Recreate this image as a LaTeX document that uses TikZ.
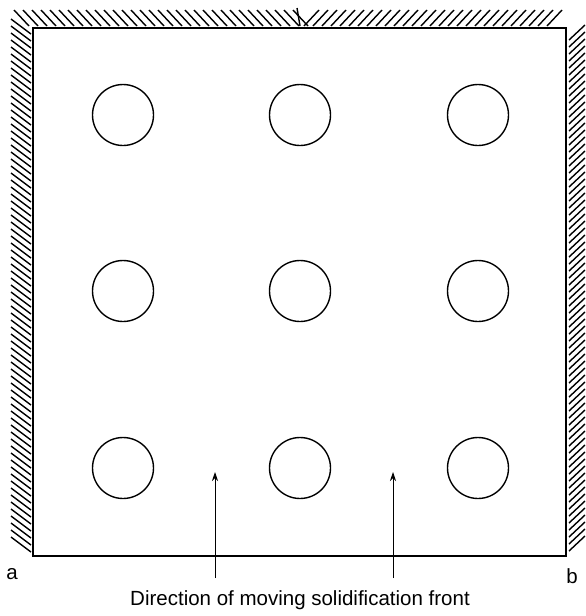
\documentclass[tikz,border=0pt]{standalone}
\usepackage{fontspec}
\setmainfont{Liberation Sans}
\usetikzlibrary{arrows.meta}
\begin{document}
\begin{tikzpicture}[x=1pt,y=-1pt,
  hole/.style={circle,draw,line width=1.4pt,minimum size=61pt,inner sep=0pt},
  hatch/.style={line width=1.4pt},
  wall/.style={line width=2pt},
  flow/.style={line width=0.9pt,-{Stealth[length=9pt,width=6pt]}},
  lbl/.style={font=\fontsize{20.5}{24}\selectfont,inner sep=0pt}]
\useasboundingbox (0,0) rectangle (586,616);
% hatching
\foreach \y in {34,41,...,552} \draw[hatch] (11,\y-15) -- (31,\y);
\foreach \x in {14,23,...,294} \draw[hatch] (\x,10) -- (\x+15,26);
\foreach \x in {304,313,...,550} \draw[hatch] (\x,26) -- (\x+15,10);
\draw[hatch] (297,8) -- (300,26);
\foreach \y in {40,47,...,552} \draw[hatch] (569,\y) -- (585,\y-15);
% box
\draw[wall] (33,28) -- (566,28) -- (566,556) -- (33,556) -- cycle;
% holes
\foreach \c/\x in {1/123,2/300,3/478}{
  \node[hole] (h1\c) at (\x,115) {};
  \node[hole] (h2\c) at (\x,291) {};
  \node[hole] (h3\c) at (\x,468) {};
}
% arrows
\coordinate (s1) at (215,578); \coordinate (e1) at (215,472);
\coordinate (s2) at (393,578); \coordinate (e2) at (393,472);
\draw[flow] (s1) -- (e1);
\draw[flow] (s2) -- (e2);
% labels
\node[lbl] (a) at (12,574) {a};
\node[lbl] (b) at (572,576) {b};
\node[lbl] (cap) at (300,600) {Direction of moving solidification front};
\end{tikzpicture}
\end{document}
